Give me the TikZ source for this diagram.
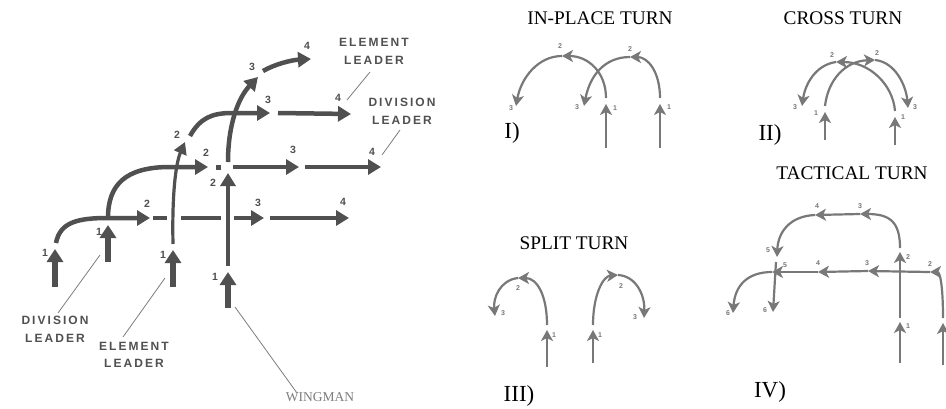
\documentclass[tikz,border=0pt]{standalone}
\usepackage{fontspec}
\setmainfont{Liberation Serif}
\newfontfamily\lblfont[LetterSpace=17]{Liberation Sans}
\newfontfamily\numfont{Liberation Sans}
\usetikzlibrary{arrows.meta}
\definecolor{dk}{RGB}{80,80,80}
\definecolor{lt}{RGB}{120,120,120}
\definecolor{ptr}{RGB}{125,125,125}
\tikzset{
 bigarrow/.style={draw=dk, line width=5.5pt, -{Triangle[length=13pt,width=16pt]}},
 bigline/.style={draw=dk, line width=4.5pt},
 curvearrow/.style={draw=dk, line width=4.5pt, -{Triangle[length=13pt,width=15pt]}},
 slimarrow/.style={draw=dk, line width=3.2pt, -{Triangle[length=12pt,width=13pt]}},
 smallarrow/.style={draw=lt, line width=2.2pt, -{Stealth[length=11pt,width=12pt,inset=3pt]}},
 lnum/.style={font=\numfont\bfseries\fontsize{10.5}{12}\selectfont, text=dk, inner sep=0pt},
 snum/.style={font=\numfont\bfseries\fontsize{7}{8}\selectfont, text=lt, inner sep=0pt},
 lbl/.style={font=\lblfont\bfseries\fontsize{12}{14}\selectfont, text=dk, inner sep=0pt},
 pointer/.style={draw=ptr, line width=0.8pt},
 heading/.style={font=\fontsize{19.3}{22}\selectfont, inner sep=0pt},
 roman/.style={font=\fontsize{23}{26}\selectfont, inner sep=0pt},
}
\begin{document}
\begin{tikzpicture}[x=1pt,y=-1pt]
\useasboundingbox (0,0) rectangle (946,408);
\fill[white] (0,0) rectangle (946,408);

% ================= LEFT DIAGRAM =================
% --- aircraft A (division leader)
\coordinate (A0) at (55,287); \coordinate (A1) at (55,249); \coordinate (A2) at (56,243);
\coordinate (J1) at (108,218); \coordinate (R1a) at (150,218);
\draw[bigarrow] (A0) -- (A1);
\draw[curvearrow] (A2) .. controls (60,222) and (78,218) .. (J1) -- (R1a);
\coordinate (R1b) at (153,218); \coordinate (R1c) at (167,218);
\coordinate (R1d) at (181,218); \coordinate (R1e) at (221,218);
\coordinate (R1f) at (234,218); \coordinate (R1g) at (264,218);
\coordinate (R1h) at (270,218); \coordinate (R1i) at (349,218);
\draw[bigline] (R1b) -- (R1c);
\draw[bigline] (R1d) -- (R1e);
\draw[curvearrow] (R1f) -- (R1g);
\draw[curvearrow] (R1h) -- (R1i);
\node[lnum] (a1) at (45,253) {1};
\node[lnum] (a2) at (147,204) {2};
\node[lnum] (a3) at (258,203) {3};
\node[lnum] (a4) at (343,202) {4};

% --- aircraft B
\coordinate (B0) at (108,262); \coordinate (B1) at (108,225);
\coordinate (R2a) at (208,167);
\draw[bigarrow] (B0) -- (B1);
\draw[curvearrow] (J1) .. controls (108,185) and (125,167) .. (170,167) -- (R2a);
\coordinate (dot) at (218,167);
\fill[dk] ([shift={(-2.5,-2.5)}]dot) rectangle ([shift={(2.5,2.5)}]dot);
\coordinate (R2b) at (233,167); \coordinate (R2c) at (299,167);
\coordinate (R2d) at (305,167); \coordinate (R2e) at (381,167);
\draw[curvearrow] (R2b) -- (R2c);
\draw[curvearrow] (R2d) -- (R2e);
\node[lnum] (b1) at (99,232) {1};
\node[lnum] (b2) at (206,153) {2};
\node[lnum] (b3) at (293,150) {3};
\node[lnum] (b4) at (372,152) {4};

% --- aircraft C (element leader)
\coordinate (C0) at (173,287); \coordinate (C1) at (173,250); \coordinate (C2) at (173,244);
\coordinate (C3) at (185,142); \coordinate (C4) at (190,136); \coordinate (C5) at (270,113);
\coordinate (C6) at (278,113); \coordinate (C7) at (351,114);
\draw[bigarrow] (C0) -- (C1);
\draw[slimarrow] (C2) .. controls (172,200) and (175,165) .. (C3);
\draw[curvearrow] (C4) .. controls (200,118) and (212,113) .. (232,113) -- (C5);
\draw[curvearrow] (C6) -- (C7);
\node[lnum] (c1) at (163,255) {1};
\node[lnum] (c2) at (177,135) {2};
\node[lnum] (c3) at (268,100) {3};
\node[lnum] (c4) at (338,98) {4};

% --- aircraft D (wingman)
\coordinate (D0) at (228,308); \coordinate (D1) at (228,272); \coordinate (D2) at (228,266);
\coordinate (D3) at (228,173); \coordinate (D4) at (228,162); \coordinate (D5) at (258,77);
\coordinate (D6) at (263,71); \coordinate (D7) at (311,59);
\draw[bigarrow] (D0) -- (D1);
\draw[curvearrow] (D2) -- (D3);
\draw[curvearrow] (D4) .. controls (228,125) and (238,98) .. (D5);
\draw[curvearrow] (D6) .. controls (275,64) and (292,60) .. (D7);
\node[lnum] (d1) at (215,277) {1};
\node[lnum] (d2) at (213,183) {2};
\node[lnum] (d3) at (252,67) {3};
\node[lnum] (d4) at (307,46) {4};

% --- labels
\node[lbl] (el1) at (374,42) {ELEMENT};
\node[lbl] (el1b) at (374,60) {LEADER};
\node[lbl] (dl1) at (402,102) {DIVISION};
\node[lbl] (dl1b) at (402,120) {LEADER};
\node[lbl] (dl2) at (55,320) {DIVISION};
\node[lbl] (dl2b) at (55,338) {LEADER};
\node[lbl] (el2) at (134,346) {ELEMENT};
\node[lbl] (el2b) at (134,363) {LEADER};
\node[font=\fontsize{13.5}{15}\selectfont, text=ptr, inner sep=0pt] (wm) at (320,397) {WINGMAN};

\coordinate (p1a) at (370,72); \coordinate (p1b) at (347,100);
\coordinate (p2a) at (400,130); \coordinate (p2b) at (382,155);
\coordinate (p3a) at (58,313); \coordinate (p3b) at (100,255);
\coordinate (p4a) at (123,337); \coordinate (p4b) at (165,278);
\coordinate (p5a) at (297,393); \coordinate (p5b) at (235,307);
\draw[pointer] (p1a) -- (p1b);
\draw[pointer] (p2a) -- (p2b);
\draw[pointer] (p3a) -- (p3b);
\draw[pointer] (p4a) -- (p4b);
\draw[pointer] (p5a) -- (p5b);

% ================= RIGHT PANELS =================
\node[heading] (h1) at (600,18) {IN-PLACE TURN};
\node[heading] (h2) at (843,18) {CROSS TURN};
\node[heading] (h3) at (574,243) {SPLIT TURN};
\node[heading] (h4) at (852,173) {TACTICAL TURN};
\node[roman] (r1) at (512,133) {I)};
\node[roman] (r2) at (770,135) {II)};
\node[roman] (r3) at (519,396) {III)};
\node[roman] (r4) at (770,392) {IV)};

% --- Panel I : in-place turn
\coordinate (P1a0) at (606,148); \coordinate (P1a1) at (606,104); \coordinate (P1a2) at (606,98);
\coordinate (P1a3) at (562,56); \coordinate (P1a4) at (516,106);
\draw[smallarrow] (P1a0) -- (P1a1);
\draw[smallarrow] (P1a2) .. controls (606,72) and (588,56) .. (P1a3);
\draw[smallarrow] (P1a3) .. controls (538,56) and (521,78) .. (P1a4);
\coordinate (P1b0) at (660,148); \coordinate (P1b1) at (660,104); \coordinate (P1b2) at (660,98);
\coordinate (P1b3) at (630,57); \coordinate (P1b4) at (584,106);
\draw[smallarrow] (P1b0) -- (P1b1);
\draw[smallarrow] (P1b2) .. controls (660,72) and (648,57) .. (P1b3);
\draw[smallarrow] (P1b3) .. controls (605,57) and (590,75) .. (P1b4);
\node[snum] at (615,108) {1};
\node[snum] at (560,46) {2};
\node[snum] at (511,108) {3};
\node[snum] at (669,107) {1};
\node[snum] at (630,49) {2};
\node[snum] at (577,107) {3};

% --- Panel II : cross turn
\coordinate (P2a0) at (825,140); \coordinate (P2a1) at (825,112); \coordinate (P2a2) at (825,106);
\coordinate (P2a3) at (875,60); \coordinate (P2a4) at (908,108);
\draw[smallarrow] (P2a0) -- (P2a1);
\draw[smallarrow] (P2a2) .. controls (828,80) and (845,61) .. (P2a3);
\draw[smallarrow] (P2a3) .. controls (895,62) and (906,85) .. (P2a4);
\coordinate (P2b0) at (895,145); \coordinate (P2b1) at (895,117); \coordinate (P2b2) at (895,111);
\coordinate (P2b3) at (836,62); \coordinate (P2b4) at (802,106);
\draw[smallarrow] (P2b0) -- (P2b1);
\draw[smallarrow] (P2b2) .. controls (893,85) and (870,62) .. (P2b3);
\draw[smallarrow] (P2b3) .. controls (815,65) and (805,85) .. (P2b4);
\node[snum] at (816,113) {1};
\node[snum] at (877,53) {2};
\node[snum] at (915,107) {3};
\node[snum] at (903,117) {1};
\node[snum] at (832,55) {2};
\node[snum] at (795,107) {3};

% --- Panel III : split turn
\coordinate (P3a0) at (547,367); \coordinate (P3a1) at (547,330); \coordinate (P3a2) at (547,325);
\coordinate (P3a3) at (518,278); \coordinate (P3a4) at (495,316);
\draw[smallarrow] (P3a0) -- (P3a1);
\draw[smallarrow] (P3a2) .. controls (547,295) and (537,278) .. (P3a3);
\draw[smallarrow] (P3a3) .. controls (500,280) and (493,298) .. (P3a4);
\coordinate (P3b0) at (593,363); \coordinate (P3b1) at (593,330); \coordinate (P3b2) at (593,325);
\coordinate (P3b3) at (618,275); \coordinate (P3b4) at (644,318);
\draw[smallarrow] (P3b0) -- (P3b1);
\draw[smallarrow] (P3b2) .. controls (593,295) and (603,276) .. (P3b3);
\draw[smallarrow] (P3b3) .. controls (636,276) and (645,295) .. (P3b4);
\node[snum] at (554,335) {1};
\node[snum] at (518,288) {2};
\node[snum] at (503,313) {3};
\node[snum] at (600,335) {1};
\node[snum] at (621,286) {2};
\node[snum] at (635,317) {3};

% --- Panel IV : tactical turn
\coordinate (P4a0) at (900,363); \coordinate (P4a1) at (900,322); \coordinate (P4a2) at (900,318);
\coordinate (P4a3) at (900,252); \coordinate (P4a4) at (900,248); \coordinate (P4a5) at (860,214);
\coordinate (P4a6) at (815,215); \coordinate (P4a7) at (777,257); \coordinate (P4a8) at (776,262);
\coordinate (P4a9) at (773,312);
\draw[smallarrow] (P4a0) -- (P4a1);
\draw[smallarrow] (P4a2) -- (P4a3);
\draw[smallarrow] (P4a4) .. controls (900,222) and (890,214) .. (P4a5);
\draw[smallarrow] (P4a5) -- (P4a6);
\draw[smallarrow] (P4a6) .. controls (790,216) and (778,232) .. (P4a7);
\draw[smallarrow] (P4a8) -- (P4a9);
\coordinate (P4b0) at (943,365); \coordinate (P4b1) at (943,323); \coordinate (P4b2) at (943,318);
\coordinate (P4b3) at (930,272); \coordinate (P4b4) at (868,271); \coordinate (P4b5) at (818,272);
\coordinate (P4b6) at (772,272); \coordinate (P4b7) at (733,313);
\draw[smallarrow] (P4b0) -- (P4b1);
\draw[smallarrow] (P4b2) .. controls (943,285) and (940,272) .. (P4b3);
\draw[smallarrow] (P4b3) -- (P4b4);
\draw[smallarrow] (P4b4) -- (P4b5);
\draw[smallarrow] (P4b5) -- (P4b6);
\draw[smallarrow] (P4b6) .. controls (748,272) and (735,285) .. (P4b7);
\node[snum] at (908,326) {1};
\node[snum] at (908,257) {2};
\node[snum] at (860,206) {3};
\node[snum] at (817,206) {4};
\node[snum] at (768,250) {5};
\node[snum] at (765,310) {6};
\node[snum] at (930,264) {2};
\node[snum] at (867,263) {3};
\node[snum] at (818,263) {4};
\node[snum] at (785,265) {5};
\node[snum] at (728,313) {6};
\end{tikzpicture}
\end{document}
